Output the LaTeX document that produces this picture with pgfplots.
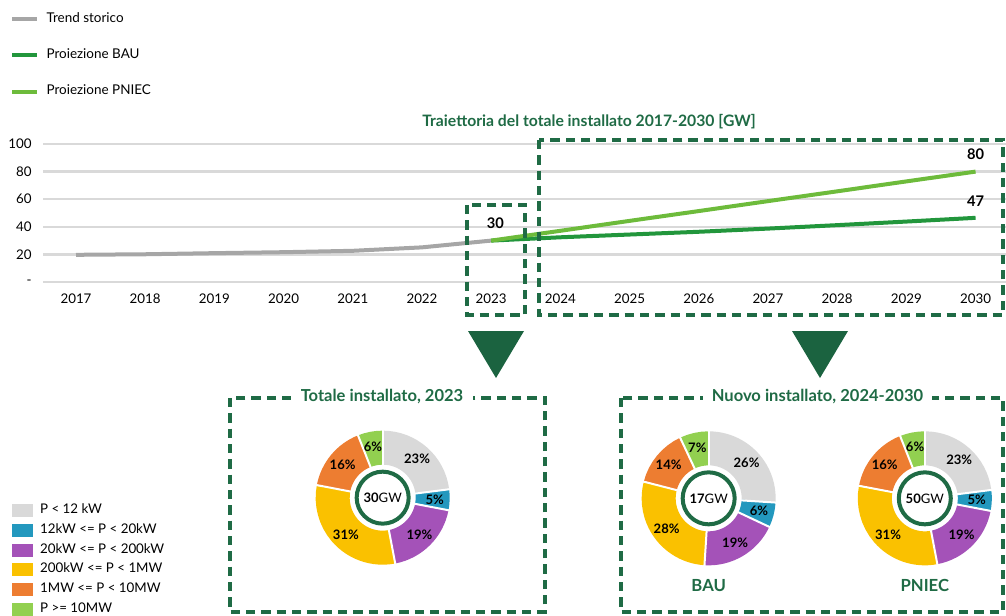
\documentclass[border=0pt]{standalone}
\usepackage{fontspec}
\setmainfont{Lato}
\usepackage{pgfplots}
\pgfplotsset{compat=1.18}

\definecolor{dkgreen}{HTML}{1F6B45}
\definecolor{trigreen}{HTML}{1B6340}
\definecolor{trendgrey}{HTML}{A6A6A6}
\definecolor{baugreen}{HTML}{22963C}
\definecolor{pniecgreen}{HTML}{6DBB3B}
\definecolor{gridgrey}{HTML}{D9D9D9}
\definecolor{cA}{HTML}{D9D9D9}
\definecolor{cB}{HTML}{2398BE}
\definecolor{cC}{HTML}{A452B8}
\definecolor{cD}{HTML}{FAC100}
\definecolor{cE}{HTML}{ED7D31}
\definecolor{cF}{HTML}{92D050}

\tikzset{dbox/.style={dkgreen, line width=2.3pt, dash pattern=on 7pt off 4.5pt}}

\newcommand{\donut}[4]{%
\begin{axis}[at={(#1,#2)}, anchor=center, hide axis, scale only axis,
  width=100.5pt, height=100.5pt, xmin=-1, xmax=1, ymin=-1, ymax=1, clip=false]
\pgfplotsextra{%
  \gdef\curang{90}%
  \foreach \v/\col in {#4} {%
    \pgfmathsetmacro{\endang}{\curang-3.6*\v}%
    \draw[\col, line width=25.5pt] (axis cs:0,0) ++(\curang:37.5pt) arc[start angle=\curang, end angle=\endang, radius=37.5pt];
    \xdef\curang{\endang}%
  }%
  \gdef\curang{90}%
  \foreach \v/\col in {#4} {%
    \pgfmathsetmacro{\endang}{\curang-3.6*\v}%
    \pgfmathsetmacro{\midang}{\curang-1.8*\v}%
    \draw[white, line width=1.5pt] (axis cs:0,0) ++(\curang:24pt) -- ++(\curang:27pt);
    \path (axis cs:0,0) ++(\midang:39pt) node[font=\bfseries\fontsize{9.8}{11}\selectfont] {\v\%};
    \xdef\curang{\endang}%
  }%
  \draw[dkgreen, line width=3pt] (axis cs:0,0) circle[radius=19.5pt];
  \node[font=\fontsize{9.8}{12}\selectfont] at (axis cs:0,0) {\textbf{#3}GW};
}
\end{axis}}

\begin{document}
\begin{tikzpicture}
% ---------- main line chart ----------
\begin{axis}[
  at={(32.25pt,249.75pt)}, anchor=south west,
  scale only axis, width=722.25pt, height=103.5pt,
  xmin=2016.523, xmax=2030.44, ymin=0, ymax=100,
  clip=false,
  axis line style={draw=none},
  major tick length=0pt,
  xtick={2017,2018,...,2030},
  ytick={0,20,40,60,80,100},
  yticklabels={-\hspace{9pt},20,40,60,80,100},
  ymajorgrids,
  grid style={gridgrey, line width=1.9pt},
  /pgf/number format/1000 sep={},
  /pgf/number format/assume math mode=true,
  tick label style={font=\fontsize{10}{12}\selectfont, text=black},
  xticklabel style={yshift=-5pt},
  yticklabel style={xshift=-5pt},
  legend cell align=left,
  legend style={draw=none, fill=none, at={(-0.0343,1.962)}, anchor=north west,
    inner sep=0pt, row sep=16.3pt, column sep=4.5pt,
    nodes={inner sep=1pt, text height=7pt, text depth=2pt, font=\fontsize{10.1}{12}\selectfont}},
  legend image code/.code={\draw[#1] (0pt,0pt) -- (18.75pt,0pt);},
]
\addplot[trendgrey, line width=3pt, line join=round] coordinates {(2017,19.7)(2018,20.1)(2019,20.9)(2020,21.6)(2021,22.6)(2022,25.1)(2023,30)};
\addlegendentry{Trend storico}
\addplot[baugreen, line width=3pt, line join=round] coordinates {(2023,30)(2024,32.4)(2025,34.4)(2026,36.4)(2027,38.7)(2028,41.2)(2029,43.8)(2030,46.5)};
\addlegendentry{Proiezione BAU}
\addplot[pniecgreen, line width=3pt, line join=round] coordinates {(2023,30)(2024,37.1)(2025,44.3)(2026,51.4)(2027,58.6)(2028,65.7)(2029,72.9)(2030,80)};
\addlegendentry{Proiezione PNIEC}
\node[font=\bfseries\fontsize{11}{13}\selectfont, yshift=13pt] at (axis cs:2023.06,30) {30};
\node[font=\bfseries\fontsize{11}{13}\selectfont, yshift=13pt] at (axis cs:2030,80) {80};
\node[font=\bfseries\fontsize{11}{13}\selectfont, yshift=12.6pt] at (axis cs:2030,46.5) {47};
\end{axis}

% ---------- donuts ----------
\donut{287pt}{88pt}{30}{23/cA,5/cB,19/cC,31/cD,16/cE,6/cF}
\donut{531.5pt}{87.5pt}{17}{26/cA,6/cB,19/cC,28/cD,14/cE,7/cF}
\donut{693.6pt}{87.5pt}{50}{23/cA,5/cB,19/cC,31/cD,16/cE,6/cF}

% ---------- bottom legend ----------
\begin{axis}[at={(9pt,83.7pt)}, anchor=north west, hide axis, scale only axis,
  width=10pt, height=10pt, xmin=0, xmax=1, ymin=0, ymax=1,
  legend cell align=left,
  legend style={draw=none, fill=none, at={(0,1)}, anchor=north west,
    inner sep=0pt, row sep=4.8pt, column sep=5pt,
    nodes={inner sep=0.5pt, text height=7pt, text depth=2pt, font=\fontsize{10}{12}\selectfont}},
  legend image code/.code={\fill[#1] (0pt,-4.5pt) rectangle (15pt,4.5pt);}]
\addlegendimage{cA}\addlegendentry{P < 12 kW}
\addlegendimage{cB}\addlegendentry{12kW <= P < 20kW}
\addlegendimage{cC}\addlegendentry{20kW <= P < 200kW}
\addlegendimage{cD}\addlegendentry{200kW <= P < 1MW}
\addlegendimage{cE}\addlegendentry{1MW <= P < 10MW}
\addlegendimage{cF}\addlegendentry{P >= 10MW}
\end{axis}

% ---------- decorations ----------
\begin{scope}[x=0.75pt, y=-0.75pt, shift={(0pt,461.25pt)}]
\node[text=dkgreen, font=\bfseries\fontsize{11.8}{13}\selectfont] at (589,122) {Traiettoria del totale installato 2017-2030 [GW]};
\draw[dbox] (467,205) rectangle (525,315);
\draw[dbox] (539,140) rectangle (1003,315);
\fill[trigreen] (468,331) -- (524,331) -- (496,378) -- cycle;
\fill[trigreen] (792,331) -- (848,331) -- (820,378) -- cycle;
\draw[dbox] (230,398) rectangle (545,612);
\draw[dbox] (621,398) rectangle (1003,612);
\node[fill=white, inner xsep=7pt, text=dkgreen, font=\bfseries\fontsize{12.4}{14}\selectfont] at (382,397) {Totale installato, 2023};
\node[fill=white, inner xsep=7pt, text=dkgreen, font=\bfseries\fontsize{12.4}{14}\selectfont] at (817.5,397) {Nuovo installato, 2024-2030};
\node[text=dkgreen, font=\bfseries\fontsize{12.5}{14}\selectfont] at (708.7,585.5) {BAU};
\node[text=dkgreen, font=\bfseries\fontsize{12.5}{14}\selectfont] at (924.8,585.5) {PNIEC};
\end{scope}

\pgfresetboundingbox
\path[use as bounding box] (0pt,0pt) rectangle (754.5pt,461.25pt);
\end{tikzpicture}
\end{document}
